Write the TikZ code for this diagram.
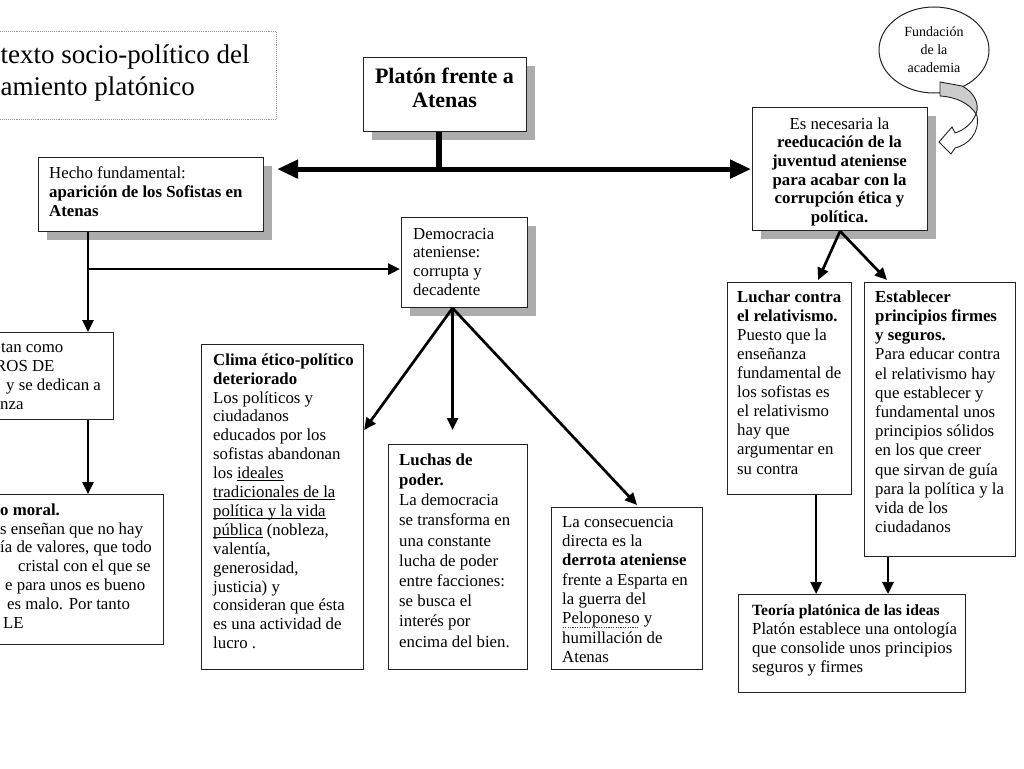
\documentclass[tikz,border=0pt]{standalone}
\usepackage{fontspec}
\setmainfont{Liberation Serif}
\usetikzlibrary{arrows.meta,calc,shadows,shapes.geometric}
\definecolor{shd}{RGB}{172,172,172}
\definecolor{bord}{RGB}{35,35,35}
\definecolor{ttlb}{RGB}{150,150,150}
\newcommand\fs[2]{\fontsize{#1}{#2}\selectfont}
\newsavebox\ulbox
\newcommand\ulx[1]{\sbox\ulbox{#1}\rlap{\rule[-2.6pt]{\wd\ulbox}{0.8pt}}\usebox\ulbox}
\newcommand\redwave[1]{\sbox\ulbox{#1}\rlap{\raisebox{-3.5pt}{\textcolor{red!85!black}{\leaders\hbox to 2.4pt{\hss\rule{1.2pt}{0.7pt}\hss}\hskip\wd\ulbox}}}\usebox\ulbox}
\tikzset{
  box/.style={draw=bord, line width=1.1pt, fill=white, inner sep=0pt, anchor=north west},
  shbox/.style={box, drop shadow={shadow xshift=8pt, shadow yshift=-8pt, opacity=1, fill=shd}},
  txt/.style={anchor=north west, inner sep=0pt, align=left},
  ctxt/.style={anchor=north, inner sep=0pt, align=center},
  conn/.style={line width=2.7pt, -{Triangle[length=12pt,width=11pt]}},
  bigarr/.style={line width=5pt, {Triangle[length=21pt,width=18pt]}-{Triangle[length=21pt,width=18pt]}}
}
\begin{document}
\begin{tikzpicture}[x=1pt,y=-1pt]
\useasboundingbox (0,0) rectangle (1024,768);
\clip (0,0) rectangle (1024,768);
\fill[white] (0,0) rectangle (1024,768);

% title
\node[box, draw=ttlb, densely dotted, line width=0.9pt, minimum width=281pt, minimum height=88pt] (ttlbox) at (-5,31) {};
\node[txt, font=\fs{27}{32}] (ttl) at (0.5,40.6) {\strut texto socio-político del\\amiento platónico};

% Platon
\node[shbox, minimum width=163pt, minimum height=74pt] (platon) at (363,57) {};
\node[ctxt, font=\bfseries\fs{22}{24}] (platont) at (444.5,66.2) {\strut Platón frente a\\Atenas};

% Hecho fundamental
\node[shbox, minimum width=225pt, minimum height=74pt] (hecho) at (38,157) {};
\node[txt, font=\fs{16.8}{19}] (hechot) at (49,164.7) {\strut Hecho fundamental:\\\textbf{aparición de los Sofistas en}\\\textbf{Atenas}};

% Democracia
\node[shbox, minimum width=126pt, minimum height=90pt] (demo) at (401,217) {};
\node[txt, font=\fs{16.8}{18.7}] (demot) at (413,225.9) {\strut Democracia\\ateniense:\\corrupta y\\decadente};

% left cut boxes
\node[box, minimum width=118pt, minimum height=87pt] (b1) at (-5,332) {};
\node[txt, font=\fs{16.8}{19}] (b1t) at (0,338.7) {\strut\hspace*{1pt}tan como\\\hspace*{-5pt}ROS DE\\\hspace*{6pt}y se dedican a\\nza};
\node[box, minimum width=168pt, minimum height=150pt] (b2) at (-5,494) {};
\node[txt, font=\fs{16.8}{18.9}] (b2t) at (0,501.7) {\strut\textbf{o moral.}\\s enseñan que no hay\\ía de valores, que todo\\\hspace*{18pt}cristal con el que se\\\hspace*{5pt}e para unos es bueno\\\hspace*{7pt}es malo. Por tanto\\\hspace*{3pt}LE};

% Clima
\node[box, minimum width=162pt, minimum height=325pt] (clima) at (201,344) {};
\node[txt, font=\fs{16.8}{18.9}] (climat) at (213,351.8) {\strut\textbf{Clima ético-político}\\\textbf{deteriorado}\\Los políticos y\\ciudadanos\\educados por los\\sofistas abandonan\\los \ulx{ideales}\\\ulx{tradicionales de la}\\\ulx{política y la vida}\\\ulx{pública} (nobleza,\\valentía,\\generosidad,\\justicia) y\\consideran que ésta\\es una actividad de\\lucro .};

% Luchas de poder
\node[box, minimum width=139pt, minimum height=225pt] (luchas) at (388,444) {};
\node[txt, font=\fs{16.8}{20.2}] (luchast) at (399,450.9) {\strut\textbf{Luchas de}\\\textbf{poder.}\\La democracia\\se transforma en\\una constante\\lucha de poder\\entre facciones:\\se busca el\\interés por\\encima del bien.};

% Consecuencia
\node[box, minimum width=151pt, minimum height=162pt] (cons) at (551,507) {};
\node[txt, font=\fs{16.8}{19.3}] (const) at (562,513.5) {\strut La consecuencia\\directa es la\\\textbf{derrota ateniense}\\frente a Esparta en\\la guerra del\\\redwave{Peloponeso} y\\humillación de\\Atenas};

% Es necesaria
\node[shbox, minimum width=175pt, minimum height=123pt] (nec) at (752,107) {};
\node[ctxt, font=\fs{16.8}{18.6}] (nect) at (839.5,116) {\strut Es necesaria la\\\textbf{reeducación de la}\\\textbf{juventud ateniense}\\\textbf{para acabar con la}\\\textbf{corrupción ética y}\\\textbf{política.}};

% Fundacion ellipse
\node[ellipse, draw=bord, line width=1pt, fill=white, minimum width=110pt, minimum height=86pt, inner sep=0pt, align=center, font=\fs{14}{18}] (fund) at (934,50) {Fundación\\de la\\academia};

% curved ribbon arrow
\filldraw[fill=white, draw=bord, line width=0.9pt] (976,114) .. controls (972,124) and (964,130) .. (955,133) -- (952,127) -- (939,142) -- (951,154) -- (955,148) .. controls (968,145) and (980,133) .. (977,116) -- cycle;
\filldraw[fill=gray!40, draw=bord, line width=0.9pt] (940,82) -- (940,96) .. controls (957,97) and (970,104) .. (976,114) .. controls (980,104) and (974,92) .. (962,86) -- cycle;

% Luchar
\node[box, minimum width=124pt, minimum height=212pt] (luchar) at (727,282) {};
\node[txt, font=\fs{16.8}{19.1}] (luchart) at (737,288.6) {\strut\textbf{Luchar contra}\\\textbf{el relativismo.}\\Puesto que la\\enseñanza\\fundamental de\\los sofistas es\\el relativismo\\hay que\\argumentar en\\su contra};

% Establecer
\node[box, minimum width=151pt, minimum height=274pt] (est) at (864,282) {};
\node[txt, font=\fs{16.8}{19.2}] (estt) at (875,288.6) {\strut\textbf{Establecer}\\\textbf{principios firmes}\\\textbf{y seguros.}\\Para educar contra\\el relativismo hay\\que establecer y\\fundamental unos\\principios sólidos\\en los que creer\\que sirvan de guía\\para la política y la\\vida de los\\ciudadanos};

% Teoria
\node[box, minimum width=227pt, minimum height=98pt] (teoria) at (738,594) {};
\node[txt, font=\fs{16.8}{19}] (teoriat) at (752,601.7) {\strut{\fs{15.6}{19}\textbf{Teoría platónica de las ideas}}\\Platón establece una ontología\\que consolide unos principios\\seguros y firmes};

% ---- connectors ----
\coordinate (hub) at ($(platon.south)+(-6,37)$);
\draw[line width=6pt] (platon.south -| hub) -- (hub);
\draw[bigarr] ($(hub -| hecho.east)+(13,0)$) -- ($(hub -| nec.west)+(-1,0)$);

\coordinate (lx) at ($(hecho.south west)+(50,0)$);
\coordinate (br) at ($(lx)+(0,37)$);
\draw[line width=2.7pt] (lx) -- (br);
\draw[conn] (br) -- (b1.north -| lx);
\draw[conn] (br) -- ($(br -| demo.west)+(-1,0)$);
\draw[conn] (b1.south -| lx) -- (b2.north -| lx);

\coordinate (dsrc) at ($(demo.south)+(-12,0)$);
\draw[conn] (dsrc) -- ($(clima.north east)+(0,86)$);
\draw[conn] (dsrc) -- ($(luchas.north -| dsrc)+(0,-14)$);
\draw[conn] (dsrc) -- ($(cons.north)+(10,-2)$);

\coordinate (nsrc) at (nec.south);
\draw[conn] (nsrc) -- ($(luchar.north east)+(-34,-2)$);
\draw[conn] (nsrc) -- ($(est.north west)+(23,-2)$);

\coordinate (ta) at ($(luchar.south east)+(-36,0)$);
\coordinate (tb) at ($(est.south west)+(24,0)$);
\draw[conn] (ta) -- (ta |- teoria.north);
\draw[conn] (tb) -- (tb |- teoria.north);
\end{tikzpicture}
\end{document}
